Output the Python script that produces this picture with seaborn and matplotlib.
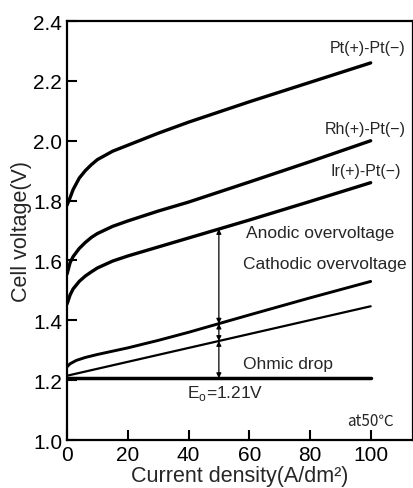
import numpy as np
import pandas as pd
import matplotlib.pyplot as plt
import seaborn as sns

# ---------------------------------------------------------
# Data
# ---------------------------------------------------------
x_curve = [0, 1, 2, 4, 6, 8, 10, 15, 20, 30, 40, 60, 80, 100]
pt_pt = [1.785, 1.81, 1.837, 1.875, 1.90, 1.92, 1.937, 1.965, 1.985, 2.025, 2.062, 2.13, 2.195, 2.26]
rh_pt = [1.555, 1.593, 1.613, 1.64, 1.66, 1.677, 1.69, 1.714, 1.732, 1.765, 1.795, 1.862, 1.93, 2.00]
ir_pt = [1.455, 1.485, 1.505, 1.53, 1.548, 1.562, 1.575, 1.598, 1.615, 1.645, 1.675, 1.735, 1.797, 1.86]

x_cath = [0, 1, 3, 6, 10, 20, 30, 40, 60, 80, 100]
cathodic = [1.245, 1.255, 1.266, 1.276, 1.286, 1.308, 1.333, 1.36, 1.418, 1.475, 1.53]

x_ohm = [0, 100]
ohmic = [1.215, 1.447]
e0 = [1.207, 1.207]

curve_labels = ["Pt(+)-Pt(−)", "Rh(+)-Pt(−)", "Ir(+)-Pt(−)"]
x_ticks = [0, 20, 40, 60, 80, 100]
y_ticks = [1.0, 1.2, 1.4, 1.6, 1.8, 2.0, 2.2, 2.4]
arrow_x = 50

# ---------------------------------------------------------
# Plot
# ---------------------------------------------------------
sns.set_style("ticks")
plt.rcParams["font.family"] = ["Liberation Sans", "DejaVu Sans"]

fig = plt.figure(figsize=(4.14, 4.89), dpi=100)
ax = fig.add_axes([0.162, 0.098, 0.836, 0.857])

for ys in [pt_pt, rh_pt, ir_pt]:
    sns.lineplot(x=x_curve, y=ys, ax=ax, color="black", linewidth=2.4)
sns.lineplot(x=x_cath, y=cathodic, ax=ax, color="black", linewidth=2.1)
sns.lineplot(x=x_ohm, y=ohmic, ax=ax, color="black", linewidth=1.6)
sns.lineplot(x=x_ohm, y=e0, ax=ax, color="black", linewidth=2.5)

# double arrows at x = 50
v_e0 = np.interp(arrow_x, x_ohm, e0)
v_ohm = np.interp(arrow_x, x_ohm, ohmic)
v_cath = np.interp(arrow_x, x_cath, cathodic)
v_ir = np.interp(arrow_x, x_curve, ir_pt)
for lo, hi in [(v_e0, v_ohm), (v_ohm, v_cath), (v_cath, v_ir)]:
    ax.annotate("", xy=(arrow_x, hi), xytext=(arrow_x, lo),
                arrowprops=dict(arrowstyle="<|-|>", color="black", lw=0.9,
                                mutation_scale=7, shrinkA=0, shrinkB=0))

# curve labels
ax.text(111.5, 2.31, curve_labels[0], ha="right", va="center", fontsize=11.5)
ax.text(111.5, 2.04, curve_labels[1], ha="right", va="center", fontsize=11.5)
ax.text(110, 1.90, curve_labels[2], ha="right", va="center", fontsize=11.5)

ax.text(59, 1.693, "Anodic overvoltage", ha="left", va="center", fontsize=12.5)
ax.text(57.8, 1.59, "Cathodic overvoltage", ha="left", va="center", fontsize=12.5)
ax.text(57.8, 1.257, "Ohmic drop", ha="left", va="center", fontsize=12.5)
ax.text(39.6, 1.16, "E$_\\mathregular{o}$=1.21V", ha="left", va="center", fontsize=12.5)
ax.text(107.5, 1.067, "at50℃", ha="right", va="center", fontsize=11,
        family=["Noto Sans CJK JP", "DejaVu Sans"])

ax.set_xlim(0, 114)
ax.set_ylim(1.0, 2.4)
ax.set_xticks(x_ticks)
ax.set_yticks(y_ticks)
ax.set_yticklabels([f"{v:.1f}" for v in y_ticks])
ax.tick_params(direction="in", length=7, width=1.5, labelsize=15, colors="black")
ax.set_xlabel("Current density(A/dm²)", fontsize=15.5, labelpad=1)
ax.set_ylabel("Cell voltage(V)", fontsize=15.5, labelpad=1)
for s in ax.spines.values():
    s.set_linewidth(1.6)
    s.set_color("black")
    s.set_visible(True)

fig.savefig("out.png", dpi=100)
